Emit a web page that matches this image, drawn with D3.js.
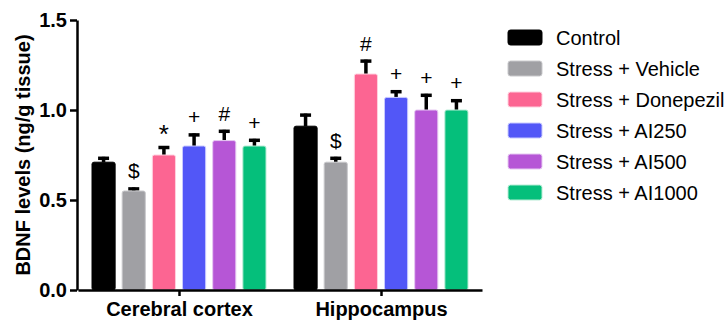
<!DOCTYPE html>
<html>
<head>
<meta charset="utf-8">
<script src="https://cdn.jsdelivr.net/npm/d3@7"></script>
<style>
  html, body { margin: 0; padding: 0; background: #fff; }
  svg { display: block; font-family: "Liberation Sans", Arial, Helvetica, sans-serif; }
</style>
</head>
<body>
<svg id="chart" width="726" height="325"></svg>
<script>
// Regions (x-axis groups)
const regions = ["Cerebral cortex", "Hippocampus"];

// Treatment groups
const groups = ["Control", "Stress + Vehicle", "Stress + Donepezil", "Stress + AI250", "Stress + AI500", "Stress + AI1000"];
const groupColors = ["#000000", "#a0a0a4", "#fc6592", "#5257f7", "#b656d6", "#05bf7b"];
const groupEdges = ["#000000", "#c8c8cb", "#ffd0de", "#c8caff", "#e6c8f2", "#b8ecd6"];

// Mean BDNF levels (ng/g tissue), one array per region, in group order
const cortexMeans = [0.71, 0.55, 0.75, 0.80, 0.83, 0.80];
const hippoMeans  = [0.91, 0.71, 1.20, 1.07, 1.00, 1.00];

// Upper error (SEM) for each bar
const cortexErr = [0.03, 0.02, 0.05, 0.07, 0.06, 0.04];
const hippoErr  = [0.07, 0.03, 0.08, 0.04, 0.09, 0.06];

// Significance marks above the bars
const cortexMarks = ["", "$", "*", "+", "#", "+"];
const hippoMarks  = ["", "$", "#", "+", "+", "+"];

// Y-axis ticks
const yTicks = [0, 0.5, 1.0, 1.5];

const meansByRegion = [cortexMeans, hippoMeans];
const errByRegion = [cortexErr, hippoErr];
const marksByRegion = [cortexMarks, hippoMarks];

const svg = d3.select("#chart");

const y = d3.scaleLinear().domain([0, 1.5]).range([290, 20]);
const xRegion = d3.scalePoint().domain(regions).range([78, 482]).padding(0.5);
const xGroup = d3.scaleBand().domain(groups).range([-87.5, 87.5]).paddingInner(0.2);

// Bars, error bars and marks
regions.forEach((region, ri) => {
  const g = svg.append("g")
    .attr("transform", `translate(${xRegion(region)},0)`);

  const data = groups.map((name, i) => ({
    name, i,
    mean: meansByRegion[ri][i],
    err: errByRegion[ri][i],
    mark: marksByRegion[ri][i]
  }));

  // Error bars drawn first so the bar covers the stem base
  const eb = g.selectAll("g.err").data(data).join("g").attr("class", "err");
  eb.append("line")
    .attr("x1", d => xGroup(d.name) + xGroup.bandwidth() / 2)
    .attr("x2", d => xGroup(d.name) + xGroup.bandwidth() / 2)
    .attr("y1", d => y(d.mean))
    .attr("y2", d => y(d.mean + d.err))
    .attr("stroke", "#000").attr("stroke-width", 3.5);
  eb.append("line")
    .attr("x1", d => xGroup(d.name) + xGroup.bandwidth() / 2 - 5.5)
    .attr("x2", d => xGroup(d.name) + xGroup.bandwidth() / 2 + 5.5)
    .attr("y1", d => y(d.mean + d.err) + 1.5)
    .attr("y2", d => y(d.mean + d.err) + 1.5)
    .attr("stroke", "#000").attr("stroke-width", 3.5);

  g.selectAll("rect.bar").data(data).join("rect")
    .attr("class", "bar")
    .attr("x", d => xGroup(d.name) + 0.5)
    .attr("y", d => y(d.mean))
    .attr("width", xGroup.bandwidth() - 1)
    .attr("height", d => y(0) - y(d.mean))
    .attr("rx", 2)
    .attr("fill", d => groupColors[d.i])
    .attr("stroke", d => groupEdges[d.i])
    .attr("stroke-width", 1);

  g.selectAll("text.mark").data(data.filter(d => d.mark)).join("text")
    .attr("class", "mark")
    .attr("x", d => xGroup(d.name) + xGroup.bandwidth() / 2)
    .attr("y", d => y(d.mean + d.err) - (d.mark === "*" ? 3 : 9))
    .attr("text-anchor", "middle")
    .attr("font-size", d => d.mark === "*" ? 26 : 21)
    .attr("fill", "#000")
    .text(d => d.mark);
});

// Y axis
const yAxis = svg.append("g")
  .attr("transform", "translate(77,0)")
  .call(d3.axisLeft(y).tickValues(yTicks).tickFormat(d3.format(".1f")).tickSize(7).tickSizeOuter(0).tickPadding(3));
yAxis.select(".domain").attr("stroke", "#000").attr("stroke-width", 2.5);
yAxis.selectAll(".tick line").attr("stroke", "#000").attr("stroke-width", 2.5);
yAxis.selectAll(".tick text")
  .attr("font-family", "Liberation Sans, Arial, sans-serif")
  .attr("font-size", 20).attr("font-weight", "bold").attr("fill", "#000");

// X axis
const xAxis = svg.append("g")
  .attr("transform", `translate(0,${y(0)})`)
  .call(d3.axisBottom(xRegion).tickSize(6).tickSizeOuter(0).tickPadding(6));
xAxis.select(".domain").attr("stroke", "#000").attr("stroke-width", 2.5);
xAxis.selectAll(".tick line").attr("stroke", "#000").attr("stroke-width", 2.5);
xAxis.selectAll(".tick text")
  .attr("font-family", "Liberation Sans, Arial, sans-serif")
  .attr("font-size", 20).attr("font-weight", "bold").attr("fill", "#000");

// Y axis title
svg.append("text")
  .attr("transform", "translate(30,155) rotate(-90)")
  .attr("text-anchor", "middle")
  .attr("font-size", 20)
  .attr("font-weight", "bold")
  .attr("fill", "#000")
  .text("BDNF levels (ng/g tissue)");

// Legend
const legend = svg.append("g").attr("transform", "translate(508,30)");
const rows = legend.selectAll("g").data(groups).join("g")
  .attr("transform", (d, i) => `translate(0,${i * 31})`);
rows.append("rect")
  .attr("width", 34).attr("height", 15).attr("rx", 2.5)
  .attr("fill", (d, i) => groupColors[i])
  .attr("stroke", (d, i) => groupEdges[i]).attr("stroke-width", 1);
rows.append("text")
  .attr("x", 48).attr("y", 15)
  .attr("font-size", 20)
  .attr("fill", "#000")
  .text(d => d);
</script>
</body>
</html>
